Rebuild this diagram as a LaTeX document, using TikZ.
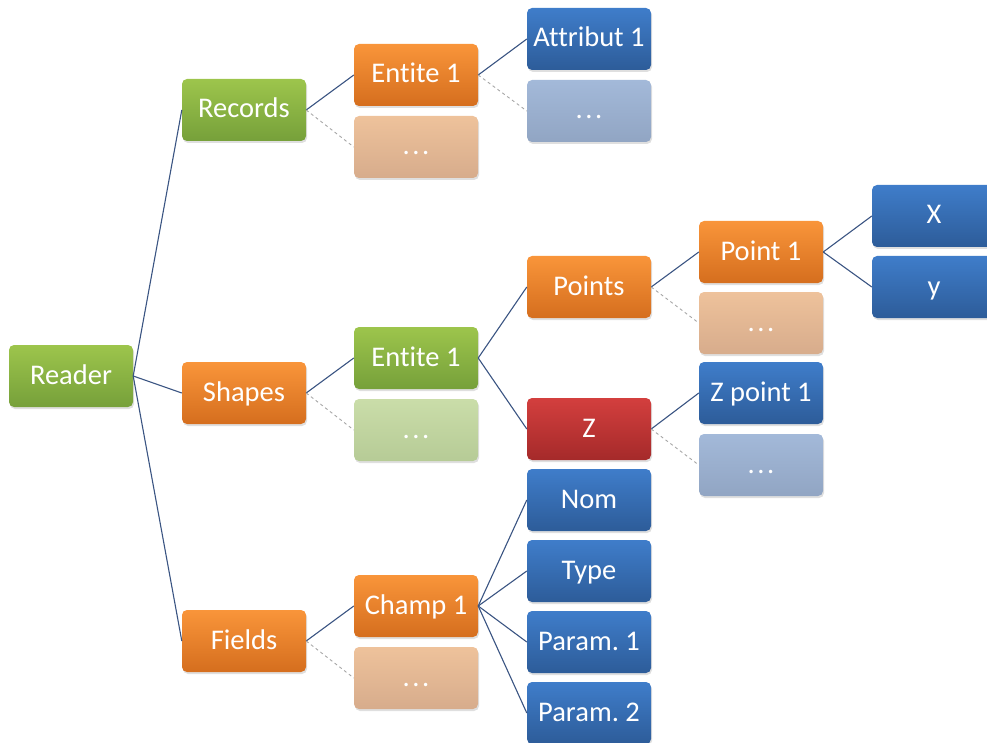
\documentclass[tikz,border=0pt]{standalone}
\usepackage{fontspec}
\setmainfont{Carlito}[Ligatures={NoCommon,NoRequired}]
\usepackage{xcolor}
\usetikzlibrary{shadows}
\frenchspacing
\definecolor{greentop}{HTML}{9DC54C}
\definecolor{greenbot}{HTML}{76A03A}
\definecolor{orangetop}{HTML}{F9953A}
\definecolor{orangebot}{HTML}{D56E1E}
\definecolor{bluetop}{HTML}{3F7DCA}
\definecolor{bluebot}{HTML}{2D5C99}
\definecolor{redtop}{HTML}{D33F3E}
\definecolor{redbot}{HTML}{A52A2A}
\definecolor{palegreentop}{HTML}{CADDA9}
\definecolor{palegreenbot}{HTML}{B6CB96}
\definecolor{paleorangetop}{HTML}{EEC29B}
\definecolor{paleorangebot}{HTML}{D7AC8C}
\definecolor{palebluetop}{HTML}{A3B9D9}
\definecolor{palebluebot}{HTML}{91A5C3}
\definecolor{linkblue}{HTML}{3A5482}
\newcommand{\etc}{.\kern2.5pt.\kern2.5pt.}

\begin{document}
\begin{tikzpicture}[x=1pt,y=1pt,
    box/.style={rounded corners=5pt,minimum width=124pt,minimum height=62pt,inner sep=0pt,
      text=white,font=\fontsize{28.5}{30}\selectfont,text height=22pt,text depth=6pt,
      drop shadow={opacity=0.25,shadow xshift=1pt,shadow yshift=-2pt}},
    green/.style={box,top color=greentop,bottom color=greenbot},
    orange/.style={box,top color=orangetop,bottom color=orangebot},
    blue/.style={box,top color=bluetop,bottom color=bluebot},
    red/.style={box,top color=redtop,bottom color=redbot},
    paleorange/.style={box,top color=paleorangetop,bottom color=paleorangebot},
    paleblue/.style={box,top color=palebluetop,bottom color=palebluebot},
    palegreen/.style={box,top color=palegreentop,bottom color=palegreenbot},
    link/.style={linkblue,line width=1.1pt},
    more/.style={gray!70,dashed,line width=0.9pt}]
    \useasboundingbox (0,0) rectangle (987,-743);
    \clip (0,0) rectangle (987,-743);
    % level 0 and 1
    \node[green] (reader) at (71,-376) {Reader};
    \node[green] (records) at (244,-110) {Records};
    \node[orange] (shapes) at (244,-393) {Shapes};
    \node[orange] (fields) at (244,-641) {Fields};
    % records
    \node[orange] (rent) at (416,-75) {Entite 1};
    \node[paleorange] (rmore) at (416,-147) {\etc};
    \node[blue] (attr) at (589,-39) {Attribut 1};
    \node[paleblue] (amore) at (589,-111) {\etc};
    % shapes
    \node[green] (sent) at (416,-358) {Entite 1};
    \node[palegreen] (smore) at (416,-430) {\etc};
    \node[orange] (points) at (589,-287) {Points};
    \node[red] (z) at (589,-429) {Z};
    \node[orange] (pt) at (761,-252) {Point 1};
    \node[paleorange] (ptmore) at (761,-323) {\etc};
    \node[blue] (x) at (934,-216) {X};
    \node[blue] (y) at (934,-287) {y};
    \node[blue] (zpt) at (761,-393) {Z point 1};
    \node[paleblue] (zmore) at (761,-465) {\etc};
    % fields
    \node[orange] (champ) at (416,-606) {Champ 1};
    \node[paleorange] (cmore) at (416,-678) {\etc};
    \node[blue] (nom) at (589,-500) {Nom};
    \node[blue] (type) at (589,-571) {Type};
    \node[blue] (par1) at (589,-642) {Param. 1};
    \node[blue] (par2) at (589,-713) {Param. 2};

    \draw[link] (reader.east) -- (records.west);
    \draw[link] (reader.east) -- (shapes.west);
    \draw[link] (reader.east) -- (fields.west);
    \draw[link] (records.east) -- (rent.west);
    \draw[more] (records.east) -- (rmore.west);
    \draw[link] (rent.east) -- (attr.west);
    \draw[more] (rent.east) -- (amore.west);
    \draw[link] (shapes.east) -- (sent.west);
    \draw[more] (shapes.east) -- (smore.west);
    \draw[link] (sent.east) -- (points.west);
    \draw[link] (sent.east) -- (z.west);
    \draw[link] (points.east) -- (pt.west);
    \draw[more] (points.east) -- (ptmore.west);
    \draw[link] (pt.east) -- (x.west);
    \draw[link] (pt.east) -- (y.west);
    \draw[link] (z.east) -- (zpt.west);
    \draw[more] (z.east) -- (zmore.west);
    \draw[link] (fields.east) -- (champ.west);
    \draw[more] (fields.east) -- (cmore.west);
    \foreach \f in {nom,type,par1,par2}
      \draw[link] (champ.east) -- (\f.west);
\end{tikzpicture}
\end{document}
